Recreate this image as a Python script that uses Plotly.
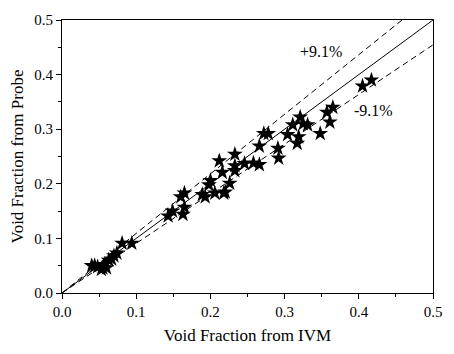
import plotly.graph_objects as go

ivm = [0.040, 0.044, 0.048, 0.053, 0.055, 0.057, 0.060, 0.063, 0.067, 0.070, 0.074, 0.081, 0.094,
       0.143, 0.149, 0.163, 0.165, 0.160, 0.165, 0.189, 0.193, 0.206, 0.220, 0.198, 0.200,
       0.216, 0.226, 0.233, 0.212, 0.233, 0.233, 0.246, 0.258, 0.266, 0.218,
       0.266, 0.272, 0.291, 0.292, 0.278, 0.304, 0.311, 0.317, 0.319, 0.321, 0.325, 0.331,
       0.348, 0.357, 0.361, 0.365, 0.405, 0.417]
probe = [0.050, 0.050, 0.048, 0.043, 0.046, 0.052, 0.046, 0.060, 0.062, 0.068, 0.073, 0.091, 0.091,
         0.141, 0.150, 0.144, 0.157, 0.176, 0.183, 0.180, 0.176, 0.183, 0.185, 0.198, 0.206,
         0.221, 0.201, 0.224, 0.242, 0.254, 0.233, 0.237, 0.238, 0.235, 0.183,
         0.269, 0.292, 0.265, 0.247, 0.292, 0.290, 0.308, 0.274, 0.286, 0.322, 0.310, 0.308,
         0.292, 0.331, 0.313, 0.340, 0.379, 0.390]

diag_x = [0.0, 0.5]
dev = 0.091
plus_x = [0.0, 0.5 / (1 + dev)]
minus_x = [0.0, 0.5]

fig = go.Figure()
fig.add_trace(go.Scatter(x=diag_x, y=diag_x, mode="lines",
                         line=dict(color="black", width=1), showlegend=False))
fig.add_trace(go.Scatter(x=plus_x, y=[v * (1 + dev) for v in plus_x], mode="lines",
                         line=dict(color="black", width=1, dash="6px,4px"), showlegend=False))
fig.add_trace(go.Scatter(x=minus_x, y=[v * (1 - dev) for v in minus_x], mode="lines",
                         line=dict(color="black", width=1, dash="6px,4px"), showlegend=False))
fig.add_trace(go.Scatter(x=ivm, y=probe, mode="markers",
                         marker=dict(symbol="star", size=12, color="black",
                                     line=dict(width=0)), showlegend=False))

fig.add_annotation(x=0.349, y=0.443, text="+9.1%", showarrow=False,
                   font=dict(family="Liberation Serif", size=16, color="black"))
fig.add_annotation(x=0.420, y=0.334, text="-9.1%", showarrow=False,
                   font=dict(family="Liberation Serif", size=16, color="black"))

axis_common = dict(range=[0, 0.5], dtick=0.1, tickformat=".1f", ticks="outside",
                   ticklen=5, tickwidth=1, tickcolor="black", showline=True,
                   linecolor="black", linewidth=1, mirror=True, showgrid=False,
                   zeroline=False,
                   minor=dict(ticks="outside", ticklen=3, dtick=0.05, tickcolor="black"),
                   tickfont=dict(family="Liberation Serif", size=15, color="black"))
fig.update_xaxes(**axis_common,
                 title=dict(text="Void Fraction from IVM", standoff=10,
                            font=dict(family="Liberation Serif", size=17, color="black")))
fig.update_yaxes(**axis_common,
                 title=dict(text="Void Fraction from Probe", standoff=6,
                            font=dict(family="Liberation Serif", size=17, color="black")))

fig.update_layout(width=454, height=354, margin=dict(l=62, r=14, t=15, b=58),
                  plot_bgcolor="white", paper_bgcolor="white",
                  font=dict(family="Liberation Serif"))
fig.write_html("out.html")
